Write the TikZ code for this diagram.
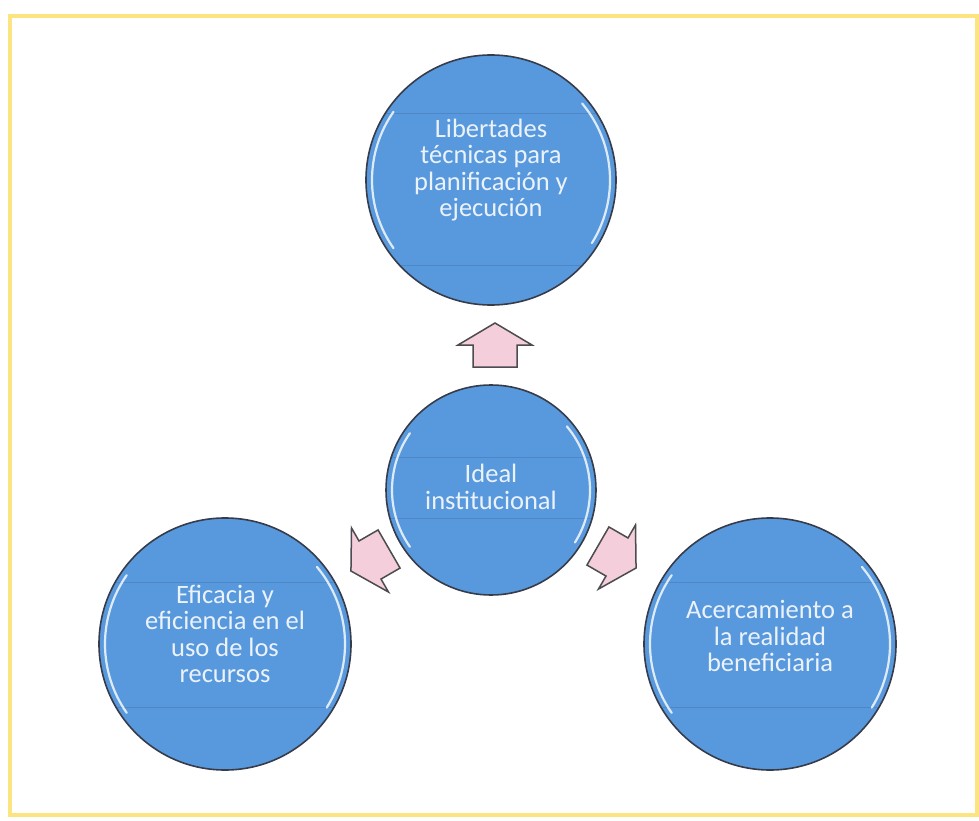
\documentclass[tikz,border=0pt]{standalone}
\usepackage{fontspec}
\setmainfont{Carlito}
\definecolor{bubblue}{RGB}{88,153,222}
\definecolor{bubline}{RGB}{55,60,75}
\definecolor{bubtext}{RGB}{236,242,250}
\definecolor{arrpink}{RGB}{244,206,218}
\definecolor{arrline}{RGB}{75,75,80}
\definecolor{frameyellow}{RGB}{252,228,128}
\begin{document}
\begin{tikzpicture}[x=1pt,y=-1pt,
  bubble/.style={circle,draw=bubline,line width=1.6pt,fill=bubblue,inner sep=0pt},
  btext/.style={text=bubtext,align=center,inner sep=0pt,font=\fontsize{26.5}{26.5}\selectfont},
  gloss/.style={white,line width=2.2pt,opacity=0.8,line cap=round},
  band/.style={bubblue!75!black,line width=0.8pt,opacity=0.45},
  blockarr/.style={draw=arrline,line width=1.5pt,fill=arrpink,line join=miter}]
\useasboundingbox (0,0) rectangle (979,821);
\fill[white] (0,0) rectangle (979,821);
\draw[frameyellow,line width=4pt] (10,16) rectangle (977,815);

% circles
\node[bubble,minimum size=250pt] (top) at (491,180) {};
\node[bubble,minimum size=210pt] (ctr) at (491,490) {};
\node[bubble,minimum size=252pt] (lft) at (225,644) {};
\node[bubble,minimum size=252pt] (rgt) at (770,644) {};

% bands
\begin{scope}
  \clip (top.center) circle[radius=124];
  \draw[band] (300,113) -- (700,113);
  \draw[band] (300,265) -- (700,265);
\end{scope}
\begin{scope}
  \clip (ctr.center) circle[radius=104];
  \draw[band] (300,457) -- (700,457);
  \draw[band] (300,518) -- (700,518);
\end{scope}
\begin{scope}
  \clip (lft.center) circle[radius=125];
  \draw[band] (50,582) -- (400,582);
  \draw[band] (50,707) -- (400,707);
\end{scope}
\begin{scope}
  \clip (rgt.center) circle[radius=125];
  \draw[band] (600,582) -- (950,582);
  \draw[band] (600,707) -- (950,707);
\end{scope}

% gloss highlights
\foreach \n/\r in {top/119,ctr/99,lft/120,rgt/120}{
  \draw[gloss] ([shift={(145:\r)}]\n.center) arc[start angle=145,end angle=215,radius=\r];
  \draw[gloss] ([shift={(-40:\r)}]\n.center) arc[start angle=-40,end angle=32,radius=\r];
}

% texts
\node[btext] (toptext) at ([yshift=10pt]top.center) {Libertades\\técnicas para\\planificación y\\ejecución};
\node[btext,font=\fontsize{26.5}{27}\selectfont] (ctrtext) at ([yshift=3pt]ctr.center) {Ideal\\institucional};
\node[btext] (lfttext) at ([yshift=10pt]lft.center) {Eficacia y\\eficiencia en el\\uso de los\\recursos};
\node[btext] (rgttext) at ([yshift=8pt]rgt.center) {Acercamiento a\\la realidad\\beneficiaria};

% block arrows
\begin{scope}[shift={(495,345)}]
  \draw[blockarr] (0,-22) -- (37,0) -- (22,0) -- (22,22) -- (-22,22) -- (-22,0) -- (-37,0) -- cycle;
\end{scope}
\begin{scope}[shift={(370,560)},rotate=120]
  \draw[blockarr] (0,-22) -- (37,0) -- (22,0) -- (22,22) -- (-22,22) -- (-22,0) -- (-37,0) -- cycle;
\end{scope}
\begin{scope}[shift={(617,557)},rotate=-120]
  \draw[blockarr] (0,-22) -- (37,0) -- (22,0) -- (22,22) -- (-22,22) -- (-22,0) -- (-37,0) -- cycle;
\end{scope}
\end{tikzpicture}
\end{document}
